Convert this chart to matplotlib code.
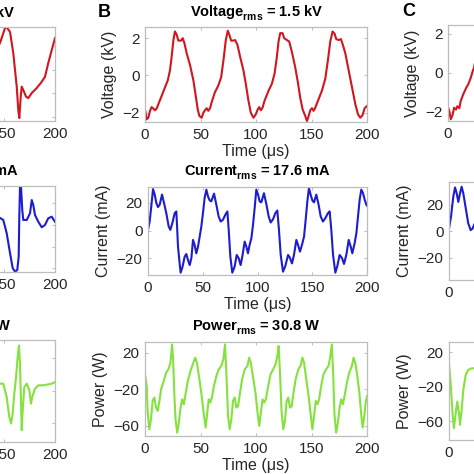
import matplotlib
matplotlib.use("Agg")
import matplotlib.pyplot as plt
from matplotlib import _mathtext

plt.rcParams['font.family'] = ['Liberation Sans', 'DejaVu Sans']
plt.rcParams['mathtext.fontset'] = 'custom'
plt.rcParams['mathtext.rm'] = 'Liberation Sans'
plt.rcParams['mathtext.bf'] = 'Liberation Sans:bold'
plt.rcParams['mathtext.it'] = 'Liberation Sans:italic'
# lower the subscript a little more (as in the reference titles)
_mathtext.FontConstantsBase.sub1 = 0.5
_mathtext.FontConstantsBase.sub2 = 0.6

# ---------------- data ----------------
x_ticks = [0, 50, 100, 150, 200]

# Panel B (full)
vB_t = [0, 1.5, 3, 4.5, 6, 7.5, 9, 10.5, 12, 15, 18, 20.5, 22.5, 24, 25.6, 27, 28.6, 30, 32.5, 34,
        35.5, 37.6, 40.6, 43.6, 45.7, 47.5, 49, 51, 52.6, 54, 55.6, 57, 58.6, 60, 63, 66, 68.6, 70.7,
        72.8, 74.6, 76, 77.6, 79.7, 81.2, 83.3, 85.7, 88.7, 90.8, 93.2, 95.3, 97.7, 99.8, 101.6, 102.9,
        104.4, 105.9, 107.7, 111.3, 114.3, 116.7, 118.8, 120.3, 121.8, 123.9, 125.4, 127.8, 129.9,
        132.3, 135.3, 137.7, 139.8, 142, 144.4, 145.9, 147.4, 148.9, 150.4, 151.9, 153.4, 156.4,
        159.4, 162.4, 164.8, 166.9, 169, 170.8, 172.3, 174.4, 176.5, 178, 180.5, 183.5, 186.5, 189.5,
        191.9, 194, 196, 197.9, 200]
vB_v = [-1.82, -2.36, -2.27, -1.9, -1.7, -1.78, -1.87, -1.78, -1.55, -1.1, -0.64, -0.27, 0.27, 1.0,
        1.9, 2.36, 2.18, 1.87, 1.87, 2.0, 1.73, 1.18, 0.55, -0.27, -1.09, -1.82, -2.18, -2.27, -2.0,
        -1.87, -1.76, -1.9, -1.76, -1.45, -0.9, -0.55, -0.1, 0.82, 1.9, 2.4, 2.18, 1.87, 1.87, 1.9,
        1.64, 1.0, 0.27, -0.45, -1.36, -2.0, -2.27, -2.09, -1.82, -1.7, -1.87, -1.73, -1.36, -0.82,
        -0.45, 0.09, 1.0, 1.82, 2.27, 2.27, 2.0, 1.9, 1.82, 1.27, 0.45, -0.36, -1.18, -1.82, -2.18,
        -2.45, -2.18, -1.87, -1.76, -1.9, -1.73, -1.27, -0.82, -0.18, 0.82, 1.82, 2.36, 2.24, 1.95,
        1.9, 1.95, 1.69, 1.18, 0.27, -0.64, -1.55, -2.09, -2.27, -2.13, -1.76, -1.64]

iB_t = [0, 1.5, 3, 4.6, 6.1, 7.6, 9.1, 10.7, 12.8, 14.6, 16.7, 18.9, 20.4, 22.2, 24.4, 25.9, 27.4,
        28.9, 29.8, 31.4, 33.5, 35, 36.5, 38.1, 39.6, 41.1, 42.6, 44.1, 45.7, 47.2, 48.7, 50.2, 51.7,
        53.3, 54.8, 56.3, 57.8, 60.3, 62.4, 64.5, 66.4, 68.5, 70.6, 72.5, 73.7, 75.2, 77, 79.1, 81,
        82.8, 84.6, 86.1, 88.3, 89.8, 91.3, 92.8, 94.4, 95.9, 97.4, 98.9, 100.5, 102, 103.5, 105.9,
        108, 110.2, 112, 114.2, 116.3, 118.1, 119.6, 121.2, 123.3, 125.4, 127.9, 129.4, 131.5, 133.3,
        135.5, 137, 138.8, 140.6, 142.5, 144, 145.5, 147, 148.5, 150.1, 151.6, 153.7, 155.8, 157.7,
        159.8, 161.9, 164.4, 165.9, 167.4, 169, 171.1, 172.9, 175, 177.2, 179, 181.1, 183.3, 185.1,
        186.6, 188.7, 190.3, 191.8, 193.3, 194.8, 196.3, 197.9, 199.4, 200]
iB_v = [0.5, 6.5, 17.5, 30, 26, 20, 17, 18.7, 26, 20, 12.6, 2.9, 0.5, 5.3, 12.6, 13.8, -11.6, -23.8,
        -30.5, -26.7, -18.9, -17, -21.3, -25, -20, -6.8, -10.4, -16.5, -11.6, -4.4, 2.9, 12.6, 23.5,
        29.6, 24.7, 21.8, 21.1, 26.7, 18.7, 10.2, 6.5, 7.8, 11.4, 13.8, 0.5, -18.9, -30.5, -26.2,
        -17.7, -20, -25, -18.9, -8, -11.6, -16.5, -10.4, -5.6, 4.1, 16.2, 29.6, 26, 21, 20.4, 27,
        19.4, 10.2, 5.8, 8.2, 12.6, 14.5, 0.5, -17.7, -29.8, -25.7, -17.7, -19.4, -23.8, -17.7, -6.8,
        -10.4, -15.3, -10.4, -4.4, 7.8, 21, 30.8, 26, 21.8, 20.4, 26, 18.7, 10.2, 6.5, 8.9, 12.6,
        13.8, 0.5, -17.7, -30.5, -25.7, -17.7, -20, -24.2, -17.7, -6.8, -11.6, -16.5, -9.2, -1.9,
        10.2, 22.3, 29.6, 27.2, 22.3, 18.7, 18]

pB_t = [0, 1.5, 2.4, 3.9, 5.4, 6.9, 8.4, 9.95, 11.5, 13, 14.5, 16.9, 19, 21.1, 22.9, 24.4, 25.3,
        26.5, 27.5, 29, 30.5, 32, 33.5, 35, 36.5, 38.6, 41, 43.1, 45.2, 46.8, 48.6, 50.7, 52.8, 54.6,
        56.1, 57.4, 58.8, 60.3, 62.1, 64.3, 66.4, 68.8, 70.6, 72.1, 73.3, 74.8, 76.3, 77.8, 79.3,
        80.8, 82.4, 83.9, 85.4, 87.5, 89.9, 92.3, 93.8, 95.3, 97.4, 99.5, 101.4, 102.9, 104.4, 105.9,
        107.4, 108.9, 111, 113.1, 115.5, 117.6, 119.2, 120.4, 121.6, 123.1, 124.6, 126.1, 127.6,
        129.1, 130.6, 132.1, 133.6, 135.7, 138.2, 140.3, 141.8, 143.3, 145.1, 147.2, 149.4, 150.8,
        152.3, 153.9, 155.4, 156.9, 158.7, 160.8, 163.2, 165.3, 166.8, 168.3, 169.5, 170.7, 172.2,
        173.8, 175.3, 176.8, 178.3, 179.8, 181.9, 184, 186.4, 187.9, 189.4, 191.3, 193.1, 194.9,
        196.1, 197.6, 198.8, 200]
pB_v = [-3.6, -16.4, -45.5, -63.6, -52.7, -32.7, -29, -40, -43.6, -32.7, -20, -10.9, -1.8, 1.8, 9,
        29, 12.7, -27.3, -52.7, -67.3, -56.4, -40, -31, -36.4, -25.5, -10.9, 0, 7.3, 14.5, 9, -5.5,
        -23.6, -45.5, -61.8, -45.5, -31, -34.5, -29, -16.4, -5.5, 1.8, 5.5, 12.7, 29, -1.8, -49,
        -63.6, -52.7, -32.7, -29, -40, -38.2, -25.5, -9, 1.8, 5.5, 14.5, 9, -7.3, -23.6, -45.5, -60,
        -45.5, -31, -34.5, -31, -16.4, -3.6, 1.8, 7.3, 16.4, 27.3, -1.8, -45.5, -63.6, -54.5, -32.7,
        -29, -40, -38.9, -25.5, -9, 1.8, 6.2, 14.5, 9, -7.3, -25.5, -49, -63.6, -49, -32.7, -36.4,
        -31, -16.4, -3.6, 1.8, 5.5, 14.5, 29, -1.8, -47.3, -67.3, -56.4, -40, -31, -36.4, -27.3,
        -12.7, -1.8, 5.5, 14.5, 9, -5.5, -23.6, -49, -61.8, -49, -34.5, -27.3]

# Panel A (only its right end is inside the picture)
vA_t = [130, 138, 146.1, 151, 152.6, 155.9, 159.1, 160.8, 162.5, 164, 165, 166.4, 167.4, 168.9,
        171.6, 173.8, 177.2, 182.1, 187, 190.2, 193.4, 196.8, 200]
vA_v = [0.2, 1.2, 2.26, 3.53, 3.6, 3.2, 1.4, -0.04, -1.46, -3.45, -4.13, -2.31, -1.46, -1.74,
        -2.31, -2.43, -2.0, -1.57, -1.04, -0.61, 0.55, 1.66, 2.68]
iA_t = [130, 138, 146.1, 149.3, 152.6, 155.9, 158.5, 160.8, 163, 164.4, 165, 165.7, 166.7, 167.9,
        168.9, 172.3, 175.5, 177.2, 178.7, 180.4, 183.6, 187, 190.2, 193.4, 196.8, 200]
iA_v = [12, 9, 6.5, 4.6, -7.4, -25.8, -39.6, -43, -41.5, -29.2, 7.6, 35.3, 35.3, 13.8, 4.6, 4.6,
        10.8, 23, 18.4, 9.2, 3, -2.1, 0, 6.2, 7.6, 3]
pA_t = [130, 138, 146.1, 149.3, 152.6, 155.2, 156.9, 158.5, 160.1, 161.8, 163.4, 164.7, 165.7,
        166.7, 167.4, 168.3, 169.9, 172.3, 174.8, 176.5, 177.7, 180.4, 183.6, 188.5, 193.4, 196.8, 200]
pA_v = [9, 10, 11.1, 11.1, -9.5, -40.3, -50.5, -35.1, -4.3, 21.2, 52, 70, 41.8, -19.7, -60.8, -30,
        5.8, 11.1, 0.8, -19.7, -9.5, 3.4, 8.5, 8.5, 10, 11.1, 13.5]

# Panel C (only its left end is inside the picture)
vC_t = [0, 1.2, 2.5, 4.3, 5.5, 7.3, 8.5, 10.3, 11.5, 13.9, 16.4, 18.5, 20.6, 22.5, 23.6, 26, 28, 30]
vC_v = [-1.77, -1.97, -2.39, -2.14, -1.8, -1.89, -1.72, -1.82, -1.46, -1.1, -0.79, -0.58, -0.27,
        0.09, 0.26, 0.9, 1.5, 2.0]
iC_t = [0, 1.8, 3.9, 5.5, 7, 8.5, 10, 11.5, 13, 15.5, 17.5, 19.7, 21.5, 22.7, 26, 30]
iC_v = [2.1, 10.9, 26.1, 33.2, 28.6, 22.2, 28.7, 33.7, 28.7, 16, 5.9, 0.8, 2.1, 4.6, 10, 15]
pC_t = [0, 1.5, 3.4, 4.5, 6.1, 7.5, 9.1, 10, 11.5, 13, 15.2, 17.5, 20.6, 22.7, 26, 30]
pC_v = [7.2, -16, -54.7, -68.1, -50.7, -37.3, -50.7, -64.3, -46.9, -23.7, -6.3, -0.5, 1.4, 1.4,
        2.5, 4]

titles_B = [r'Voltage$_{\mathbf{rms}}$ = 1.5 kV',
            r'Current$_{\mathbf{rms}}$ = 17.6 mA',
            r'Power$_{\mathbf{rms}}$ = 30.8 W']
titles_A_tail = ['kV', 'mA', 'W']
ylabels = ['Voltage (kV)', 'Current (mA)', 'Power (W)']
xlabel = 'Time (μs)'

# ---------------- style ----------------
W = H = 474
VCOL = '#d0161e'
ICOL = '#1d1dcf'
PCOL = '#84e23e'
SPINE = '#bdbdbd'
TXT = '#262626'
FS = 11
LFS = 11.5
LW = 1.5

fig = plt.figure(figsize=(W / 100, H / 100), dpi=100)
fig.patch.set_facecolor('white')


def add_ax(x0, y0, x1, y1):
    return fig.add_axes([x0 / W, 1 - y1 / H, (x1 - x0) / W, (y1 - y0) / H])


def style(ax, ylim, yticks):
    ax.set_xlim(0, 200)
    ax.set_ylim(*ylim)
    ax.set_xticks(x_ticks)
    ax.set_yticks(yticks)
    for s in ax.spines.values():
        s.set_color(SPINE)
        s.set_linewidth(0.9)
    ax.tick_params(direction='in', length=2.5, width=0.7, color=SPINE, labelsize=FS,
                   labelcolor=TXT, top=True, right=True, pad=4)
    ax.set_xlabel(xlabel, fontsize=LFS, color=TXT, labelpad=1.5)


# Panel B
axBv = add_ax(145, 27, 367, 122)
axBv.plot(vB_t, vB_v, color=VCOL, lw=LW)
style(axBv, (-2.5, 2.6), [-2, 0, 2])
axBv.set_ylabel(ylabels[0], fontsize=LFS, color=TXT)
axBv.set_title(titles_B[0], fontsize=10.5, fontweight='bold', color='black', pad=7.6)

axBi = add_ax(148, 187, 367, 275)
axBi.plot(iB_t, iB_v, color=ICOL, lw=LW)
style(axBi, (-32.2, 31.5), [-20, 0, 20])
axBi.set_ylabel(ylabels[1], fontsize=LFS, color=TXT)
axBi.set_title(titles_B[1], fontsize=10.5, fontweight='bold', color='black', pad=8.6)

axBp = add_ax(145, 342, 367, 436)
axBp.plot(pB_t, pB_v, color=PCOL, lw=LW)
style(axBp, (-71, 31.6), [-60, -20, 20])
axBp.set_ylabel(ylabels[2], fontsize=LFS, color=TXT)
axBp.set_title(titles_B[2], fontsize=10.5, fontweight='bold', color='black', pad=9)

# Panel A (cropped on the left)
axAv = add_ax(-149, 27, 55, 121)
axAv.plot(vA_t, vA_v, color=VCOL, lw=LW)
style(axAv, (-4.38, 3.62), [-4, -2, 0, 2])
axAi = add_ax(-149, 186, 55, 272)
axAi.plot(iA_t, iA_v, color=ICOL, lw=LW)
style(axAi, (-43.3, 35.9), [-40, -20, 0, 20])
axAp = add_ax(-149, 340, 55, 442)
axAp.plot(pA_t, pA_v, color=PCOL, lw=LW)
style(axAp, (-79, 78.5), [-50, 0, 50])
for txt, xr, yb in zip(titles_A_tail, [14, 18, 10], [16.7, 175, 329.5]):
    fig.text(xr / W, 1 - yb / H, txt, ha='right', va='baseline', fontsize=10.5,
             fontweight='bold', color='black')

# Panel C (cropped on the right)
axCv = add_ax(448, 25, 668, 121)
axCv.plot(vC_t, vC_v, color=VCOL, lw=LW)
style(axCv, (-2.48, 2.46), [-2, 0, 2])
axCv.set_ylabel(ylabels[0], fontsize=LFS, color=TXT)
axCi = add_ax(449, 182, 669, 280)
axCi.plot(iC_t, iC_v, color=ICOL, lw=LW)
style(axCi, (-37, 37.3), [-20, 0, 20])
axCi.set_ylabel(ylabels[1], fontsize=LFS, color=TXT)
axCp = add_ax(449, 342, 669, 440)
axCp.plot(pC_t, pC_v, color=PCOL, lw=LW)
style(axCp, (-82, 32), [-60, -20, 20])
axCp.set_ylabel(ylabels[2], fontsize=LFS, color=TXT)

# panel letters
fig.text(98 / W, 1 - 17 / H, 'B', fontsize=13, fontweight='bold', va='baseline', ha='left')
fig.text(402 / W, 1 - 16.5 / H, 'C', fontsize=13, fontweight='bold', va='baseline', ha='left')

fig.savefig('out.png', dpi=100)
